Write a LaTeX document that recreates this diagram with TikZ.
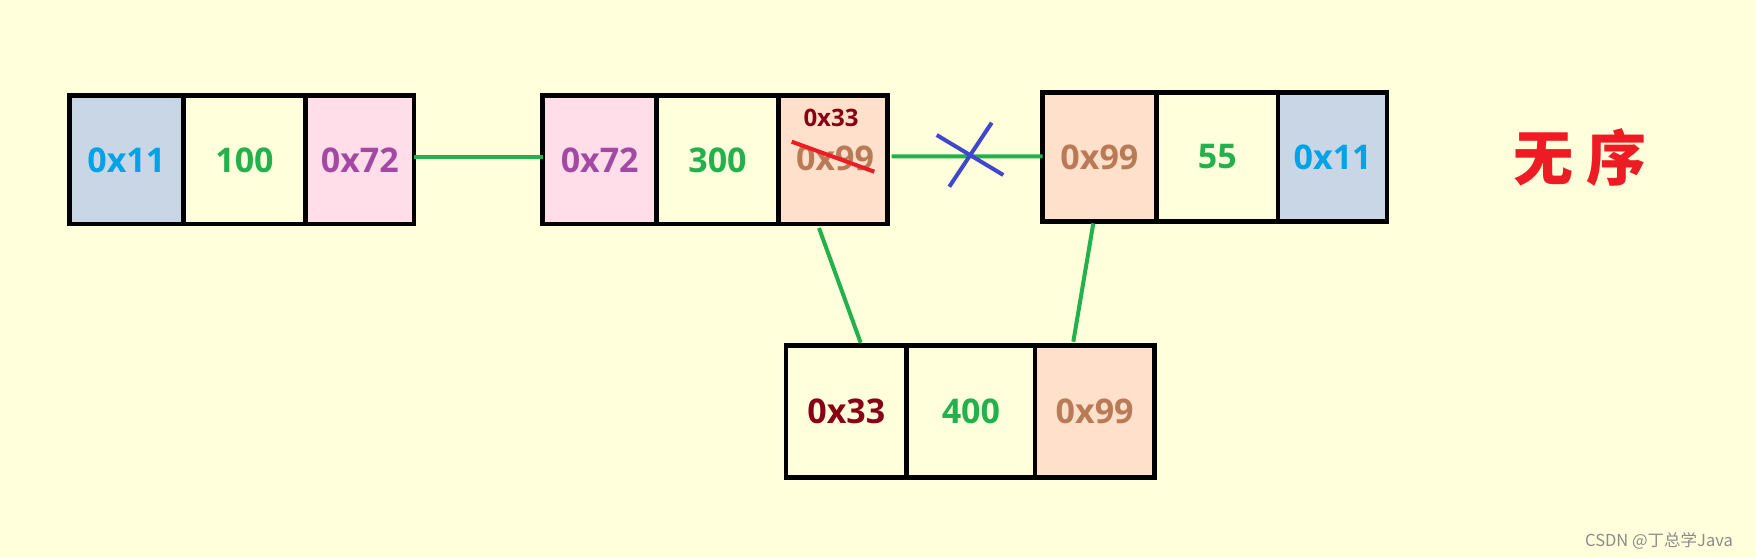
\documentclass[tikz,border=0pt]{standalone}
\usepackage{fontspec}
\setmainfont{Open Sans}
\newfontfamily\cjkfont{Noto Sans CJK SC}
\definecolor{bgc}{HTML}{FFFFDC}
\definecolor{fillblue}{HTML}{C8D6E6}
\definecolor{fillpink}{HTML}{FFDEEA}
\definecolor{fillpeach}{HTML}{FFE0CA}
\definecolor{tblue}{HTML}{00A2E8}
\definecolor{tgreen}{HTML}{22B14C}
\definecolor{tpurple}{HTML}{A349A4}
\definecolor{tbrown}{HTML}{B97A57}
\definecolor{tdred}{HTML}{880015}
\definecolor{tred}{HTML}{ED1C24}
\definecolor{xblue}{HTML}{3F48CC}
\tikzset{
  cell/.style 2 args={draw=black, line width=4.5pt, inner sep=0pt, outer sep=0pt,
    minimum width=#1pt, minimum height=#2pt,
    font=\fontsize{34}{40}\selectfont\bfseries},
  link/.style={draw=tgreen, line width=4pt},
}
\begin{document}
\begin{tikzpicture}[x=1pt,y=-1pt]
\useasboundingbox[fill=bgc] (0,0) rectangle (1756,558);
% box 1
\node[cell={114}{128.3}, fill=fillblue, text=tblue] (a1) at (126.3,159.85) {0x11};
\node[cell={122.4}{128.3}, text=tgreen] (a2) at (244.5,159.85) {100};
\node[cell={108.3}{128.3}, fill=fillpink, text=tpurple] (a3) at (359.85,159.85) {0x72};
% box 2
\node[cell={114}{128.3}, fill=fillpink, text=tpurple] (b1) at (599.7,159.85) {0x72};
\node[cell={121.6}{128.3}, text=tgreen] (b2) at (717.5,159.85) {300};
\node[cell={109.4}{128.3}, fill=fillpeach, text=tbrown] (b3) at (833,159.85) {};
\node[text=tbrown, font=\fontsize{34}{40}\selectfont\bfseries, inner sep=0pt] (b3old) at (835,158) {0x99};
\node[text=tdred, font=\fontsize{24}{28}\selectfont\bfseries, inner sep=0pt] (b3new) at (831,118) {0x33};
\draw[tred, line width=4pt] (791.7,141.7) -- (874.3,171.7);
% box 3
\node[cell={113.8}{129.4}, fill=fillpeach, text=tbrown] (c1) at (1099.4,157) {0x99};
\node[cell={121.9}{129.4}, text=tgreen] (c2) at (1217.25,157) {55};
\node[cell={108.9}{129.4}, fill=fillblue, text=tblue] (c3) at (1332.65,157) {0x11};
% box 4
\node[cell={120.7}{132}, text=tdred] (d1) at (846.35,411.7) {0x33};
\node[cell={128.3}{132}, text=tgreen] (d2) at (970.85,411.7) {400};
\node[cell={119.3}{132}, fill=fillpeach, text=tbrown] (d3) at (1094.65,411.7) {0x99};
% connectors
\draw[link] ([yshift=3pt]a3.east) -- ([yshift=3pt]b1.west);
\draw[link] ([xshift=4pt,yshift=3.5pt]b3.east) -- ([yshift=0.7pt]c1.west);
\draw[link] ([xshift=-14pt,yshift=-4pt]b3.south) -- ([xshift=14.3pt,yshift=3pt]d1.north);
\draw[link] ([xshift=-6.1pt,yshift=-1.6pt]c1.south) -- ([xshift=-21.35pt,yshift=4pt]d3.north);
% blue cross
\draw[xblue, line width=4pt] (936.7,135) -- (1003.3,175);
\draw[xblue, line width=4pt] (991.7,122.7) -- (949.3,186.7);
% title
\node[text=tred, font=\cjkfont\bfseries\fontsize{60}{66}\selectfont, inner sep=0pt] (title) at (1580,158) {无 序};
% watermark
\node[text=black!45, font=\cjkfont\fontsize{16.5}{20}\selectfont, inner sep=0pt] (wm) at (1659,540.5) {CSDN @丁总学Java};
\end{tikzpicture}
\end{document}
